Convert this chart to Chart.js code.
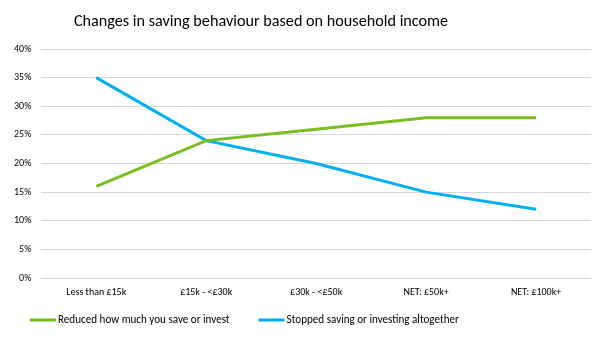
<!DOCTYPE html>
<html><head><meta charset="utf-8">
<script src="https://cdn.jsdelivr.net/npm/chart.js@4"></script>
<style>html,body{margin:0;padding:0;background:#fff}#w{width:605px;height:339px}</style>
</head><body><div id="w"><canvas id="c"></canvas></div>
<script>
const categories = ["Less than £15k", "£15k - <£30k", "£30k - <£50k", "NET: £50k+", "NET: £100k+"];
const reducedSaving = [16, 24, 26, 28, 28];
const stoppedSaving = [35, 24, 20, 15, 12];
const seriesNames = ["Reduced how much you save or invest", "Stopped saving or investing altogether"];
const titleText = "Changes in saving behaviour based on household income";

const FONT = "Carlito, Lato, 'Open Sans', sans-serif";

// Title and legend drawn the way the original (Excel) places them: left of centre.
const excelTitleLegend = {
  id: 'excelTitleLegend',
  afterDraw(chart, args, opts) {
    const ctx = chart.ctx;
    ctx.save();
    ctx.fillStyle = '#000';
    ctx.textBaseline = 'middle';
    ctx.font = `${opts.titleSize}px ${FONT}`;
    ctx.textAlign = 'center';
    ctx.fillText(opts.title, opts.titleX, opts.titleY);
    ctx.font = `${opts.legendSize}px ${FONT}`;
    ctx.textAlign = 'left';
    let x = opts.legendX;
    chart.data.datasets.forEach(ds => {
      ctx.fillStyle = ds.borderColor;
      ctx.fillRect(x, opts.legendY - 1.5, opts.boxWidth, 3);
      x += opts.boxWidth + 2;
      ctx.fillStyle = '#000';
      ctx.fillText(ds.label, x, opts.legendY);
      x += ctx.measureText(ds.label).width + opts.itemGap;
    });
    ctx.restore();
  }
};

new Chart(document.getElementById('c'), {
  type: 'line',
  data: {
    labels: categories,
    datasets: [
      {label: seriesNames[0], data: reducedSaving, borderColor: '#78BE20', backgroundColor: '#78BE20', borderWidth: 3, pointRadius: 0, tension: 0},
      {label: seriesNames[1], data: stoppedSaving, borderColor: '#00B0F0', backgroundColor: '#00B0F0', borderWidth: 3, pointRadius: 0, tension: 0}
    ]
  },
  plugins: [excelTitleLegend],
  options: {
    responsive: true, maintainAspectRatio: false, animation: false,
    layout: {padding: {left: 4, right: 14, top: 49, bottom: 33}},
    plugins: {
      title: {display: false},
      legend: {display: false},
      tooltip: {enabled: false},
      excelTitleLegend: {title: titleText, titleSize: 16.2, titleX: 261, titleY: 22,
        legendSize: 11.1, legendX: 30, legendY: 320, boxWidth: 26, itemGap: 29}
    },
    scales: {
      x: {offset: true, grid: {display: false, drawTicks: false}, border: {display: false},
          ticks: {color: '#000', font: {family: FONT, size: 10}, padding: 8, maxRotation: 0}},
      y: {min: 0, max: 40, grid: {color: '#D9D9D9', drawTicks: false}, border: {display: false},
          ticks: {stepSize: 5, color: '#000', font: {family: FONT, size: 10}, padding: 10, callback: v => v + '%'}}
    }
  }
});
</script></body></html>
